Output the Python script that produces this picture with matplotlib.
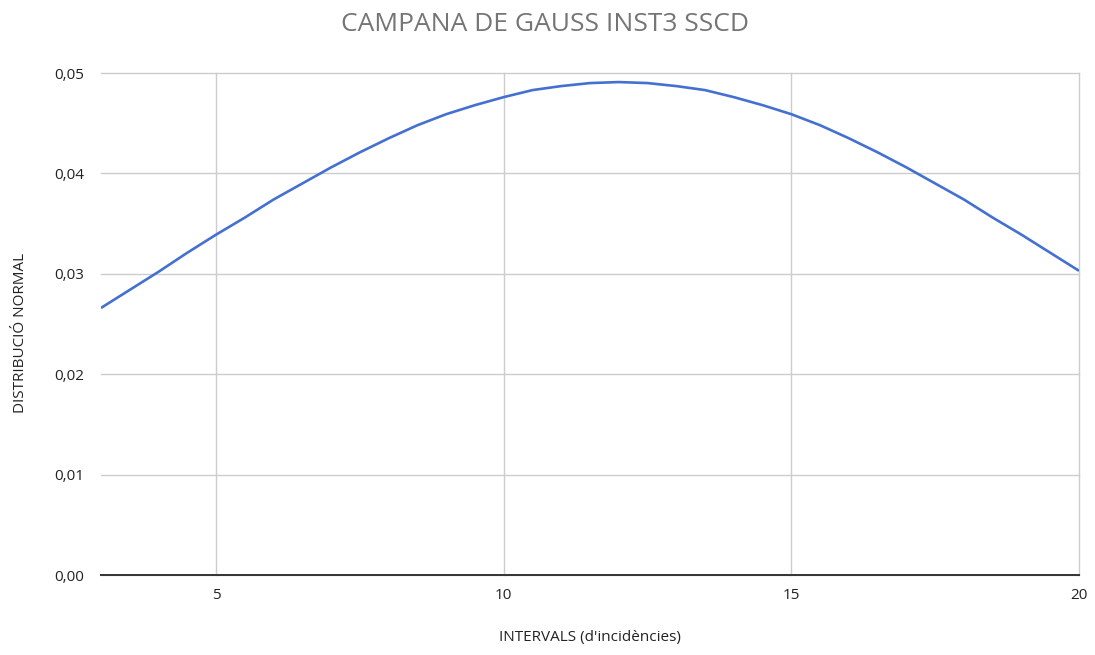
import matplotlib.pyplot as plt
from matplotlib.ticker import FuncFormatter

# normal distribution values per interval (half-unit steps)
intervals = [3, 3.5, 4, 4.5, 5, 5.5, 6, 6.5, 7, 7.5, 8, 8.5, 9, 9.5, 10, 10.5, 11, 11.5,
             12, 12.5, 13, 13.5, 14, 14.5, 15, 15.5, 16, 16.5, 17, 17.5, 18, 18.5, 19,
             19.5, 20]
densitat = [0.0266, 0.0284, 0.0302, 0.0321, 0.0339, 0.0356, 0.0374, 0.0390, 0.0406,
            0.0421, 0.0435, 0.0448, 0.0459, 0.0468, 0.0476, 0.0483, 0.0487, 0.0490,
            0.0491, 0.0490, 0.0487, 0.0483, 0.0476, 0.0468, 0.0459, 0.0448, 0.0435,
            0.0421, 0.0406, 0.0390, 0.0374, 0.0356, 0.0339, 0.0321, 0.0303]

x_ticks = [5, 10, 15, 20]
y_ticks = [0.00, 0.01, 0.02, 0.03, 0.04, 0.05]

plt.rcParams["font.family"] = ["Open Sans", "DejaVu Sans"]

fig = plt.figure(figsize=(10.95, 6.55), dpi=100)
ax = fig.add_axes([0.0922, 0.1221, 0.8932, 0.7664])

ax.plot(intervals, densitat, color="#4470d2", linewidth=1.9,
        solid_joinstyle="round", solid_capstyle="butt")

ax.set_xlim(3, 20)
ax.set_ylim(0, 0.05)
ax.set_xticks(x_ticks)
ax.set_yticks(y_ticks)
ax.yaxis.set_major_formatter(FuncFormatter(lambda v, pos: f"{v:.2f}".replace(".", ",")))
ax.grid(True, color="#cccccc", linewidth=1.0)
ax.set_axisbelow(True)
# keep the gridline on the right edge fully visible
for gl in ax.get_xgridlines() + ax.get_ygridlines():
    gl.set_clip_on(False)
ax.tick_params(length=0, labelsize=11, colors="#222222")
ax.tick_params(axis="x", pad=9)
ax.tick_params(axis="y", pad=12)

for side in ["top", "right", "left"]:
    ax.spines[side].set_visible(False)
ax.spines["bottom"].set_color("#333333")
ax.spines["bottom"].set_linewidth(1.4)

fig.text(0.498, 0.962, "CAMPANA DE GAUSS INST3 SSCD", ha="center", va="center",
         fontsize=19, color="#757575")
ax.set_xlabel("INTERVALS (d'incidències)", fontsize=11, color="#222222", va="center")
ax.xaxis.set_label_coords(0.5, -0.125)
ax.set_ylabel("DISTRIBUCIÓ NORMAL", fontsize=11, color="#222222", va="center")
ax.yaxis.set_label_coords(-0.082, 0.483)

fig.savefig("out.png", dpi=100)
